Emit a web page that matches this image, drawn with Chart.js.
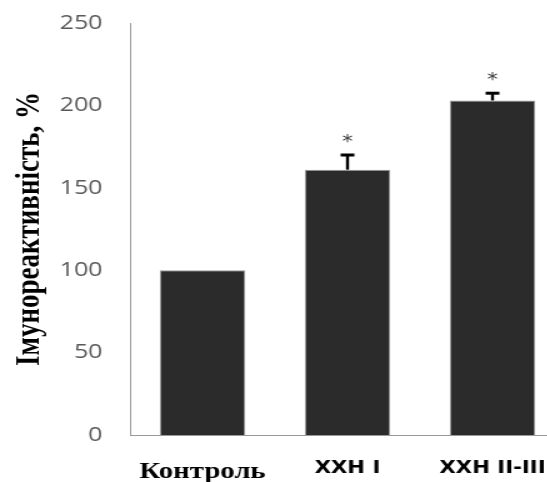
<!DOCTYPE html>
<html>
<head>
<meta charset="utf-8">
<script src="https://cdn.jsdelivr.net/npm/chart.js@4.4.0/dist/chart.umd.min.js"></script>
<style>
  html, body { margin: 0; padding: 0; background: #fff; }
  #wrap { width: 547px; height: 482px; overflow: hidden; }
</style>
</head>
<body>
<!-- the original figure is stretched sideways, so the canvas is too -->
<div id="wrap"><canvas id="myChart" width="452" height="482" style="width:565px;height:482px;display:block"></canvas></div>
<script>
var categorias = ['Контроль', 'ХХН I', 'ХХН II-III'];
var valores = [100, 161, 203];
var errores = [0, 9.5, 5];
var marcas = ['', '*', '*'];
var ticksY = [0, 50, 100, 150, 200, 250];

var fuenteSerif = { family: '"Liberation Serif", "Times New Roman", serif', weight: 'bold', size: 23 };
var fuenteSans = { family: '"DejaVu Sans", sans-serif', weight: 'bold', size: 17 };

// bigotes de error y asteriscos
var errorBars = {
    id: 'errorBars',
    afterDatasetsDraw: function(chart) {
        var ctx = chart.ctx;
        var meta = chart.getDatasetMeta(0);
        var y = chart.scales.y;
        ctx.save();
        meta.data.forEach(function(bar, i) {
            if (!errores[i]) return;
            var top = y.getPixelForValue(valores[i] + errores[i]);
            ctx.fillStyle = '#000';
            ctx.fillRect(bar.x - 1.2, top, 2.4, bar.y - top);
            ctx.fillRect(bar.x - 5.5, top - 0.5, 11, 3);
            if (marcas[i]) {
                ctx.fillStyle = '#3a3a3a';
                ctx.font = '17px "DejaVu Sans"';
                ctx.textAlign = 'center';
                ctx.textBaseline = 'alphabetic';
                ctx.fillText(marcas[i], bar.x, top - 7);
            }
        });
        ctx.restore();
    }
};

var ctx = document.getElementById('myChart');
var myChart = new Chart(ctx, {
    type: 'bar',
    data: {
        labels: categorias,
        datasets: [{
            data: valores,
            backgroundColor: '#2b2b2b',
            borderColor: '#9a9a9a',
            borderWidth: 1,
            barPercentage: 0.59,
            categoryPercentage: 1
        }]
    },
    options: {
        responsive: false,
        devicePixelRatio: 1,
        animation: false,
        layout: { padding: { top: 23, left: 0, right: 0, bottom: 0 } },
        plugins: {
            legend: { display: false },
            tooltip: { enabled: false }
        },
        scales: {
            x: {
                grid: { display: false, drawTicks: false },
                border: { display: true, color: '#999', width: 1 },
                ticks: {
                    color: '#000',
                    padding: 23,
                    maxRotation: 0,
                    autoSkip: false,
                    font: function(c) {
                        return c.index === 0 ? fuenteSerif : fuenteSans;
                    }
                },
                afterFit: function(scale) {
                    scale.height = 47;
                    scale.paddingLeft = 0;
                    scale.paddingRight = 0;
                }
            },
            y: {
                min: 0,
                max: 250,
                grid: { display: false, drawTicks: false },
                border: { display: true, color: '#999', width: 1 },
                afterBuildTicks: function(scale) {
                    scale.ticks = ticksY.map(function(v) { return { value: v }; });
                },
                ticks: {
                    color: '#595959',
                    padding: 22,
                    font: { family: '"Open Sans", sans-serif', size: 20 }
                },
                title: {
                    display: true,
                    text: 'Імунореактивність, %',
                    color: '#000',
                    padding: { top: 8, bottom: 0 },
                    font: { family: '"Liberation Serif", "Times New Roman", serif', weight: 'bold', size: 27 }
                },
                afterFit: function(scale) {
                    scale.width = 104;
                    scale.paddingTop = 0;
                    scale.paddingBottom = 0;
                }
            }
        }
    },
    plugins: [errorBars]
});
</script>
</body>
</html>
